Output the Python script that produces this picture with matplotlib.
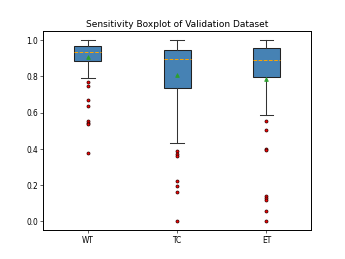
import matplotlib
matplotlib.use("Agg")
import matplotlib.pyplot as plt

labels = ["WT", "TC", "ET"]
q1 = [0.886, 0.733, 0.797]
med = [0.932, 0.893, 0.888]
q3 = [0.967, 0.945, 0.954]
mean = [0.904, 0.807, 0.785]
whislo = [0.788, 0.433, 0.589]
whishi = [1.0, 1.0, 1.0]
fliers = [
    [0.768, 0.745, 0.668, 0.637, 0.556, 0.545, 0.535, 0.377],
    [0.387, 0.374, 0.359, 0.223, 0.197, 0.160, 0.0],
    [0.554, 0.503, 0.400, 0.396, 0.138, 0.127, 0.116, 0.057, 0.0],
]

stats = []
for i, lab in enumerate(labels):
    stats.append(dict(label=lab, q1=q1[i], med=med[i], q3=q3[i], mean=mean[i],
                      whislo=whislo[i], whishi=whishi[i], fliers=fliers[i]))

fig, ax = plt.subplots(figsize=(6.4, 4.8), dpi=54)
ax.bxp(stats, showmeans=True, patch_artist=True, widths=0.3,
       boxprops=dict(facecolor="steelblue", edgecolor="#222222", linewidth=1.4),
       whiskerprops=dict(color="#333333", linewidth=1.4),
       capprops=dict(color="#333333", linewidth=1.4),
       medianprops=dict(color="orange", linestyle="--", linewidth=1.3),
       flierprops=dict(marker="o", markerfacecolor="red", markeredgecolor="#330000",
                       markersize=4),
       meanprops=dict(marker="^", markerfacecolor="#2ca02c", markeredgecolor="#2ca02c",
                      markersize=5))
for s in ax.spines.values():
    s.set_linewidth(1.3)
ax.set_title("Sensitivity Boxplot of Validation Dataset")
fig.savefig("out.png", dpi=54)
